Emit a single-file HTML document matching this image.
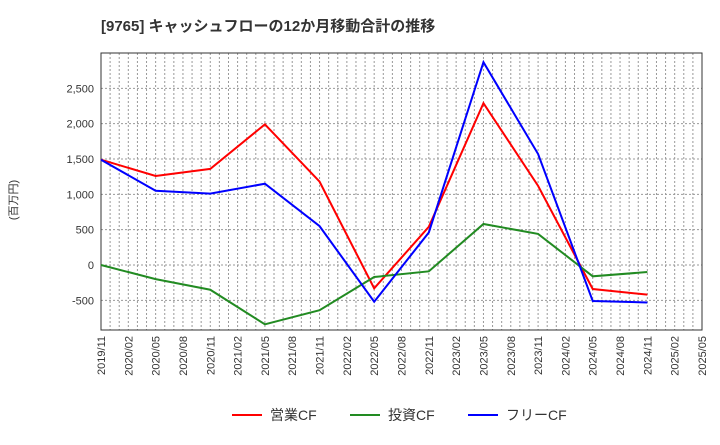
<!DOCTYPE html>
<html><head><meta charset="utf-8"><style>
body{margin:0;background:#fff;}
svg{font-family:"Liberation Sans","Noto Sans CJK JP",sans-serif;}
</style></head><body>
<svg id="c" width="720" height="440" xmlns="http://www.w3.org/2000/svg">
<text x="101" y="31" font-size="15" font-weight="bold" fill="#333">[9765]  キャッシュフローの12か月移動合計の推移</text>
<text transform="translate(17,200) rotate(-90)" font-size="11" fill="#333" text-anchor="middle">(百万円)</text>
<g id="grid"></g><g id="axes"></g><g id="series"></g>
<g>
<line x1="232" y1="415" x2="262" y2="415" stroke="#f00" stroke-width="2"/>
<text x="270" y="420" font-size="14" fill="#333">営業CF</text>
<line x1="350" y1="415" x2="380" y2="415" stroke="#228B22" stroke-width="2"/>
<text x="388" y="420" font-size="14" fill="#333">投資CF</text>
<line x1="468" y1="415" x2="498" y2="415" stroke="#00f" stroke-width="2"/>
<text x="506" y="420" font-size="14" fill="#333">フリーCF</text>
</g>
</svg>
<script>
const categories=["2019/11","2020/05","2020/11","2021/05","2021/11","2022/05","2022/11","2023/05","2023/11","2024/05","2024/11"];
const operatingCF=[1490,1260,1360,1990,1180,-330,540,2290,1120,-340,-420];
const investingCF=[0,-200,-350,-840,-640,-170,-90,580,440,-160,-100];
const freeCF=[1490,1050,1010,1150,550,-520,460,2870,1570,-510,-530];
const yTicks=[-500,0,500,1000,1500,2000,2500];
const xTickLabels=["2019/11","2020/02","2020/05","2020/08","2020/11","2021/02","2021/05","2021/08","2021/11","2022/02","2022/05","2022/08","2022/11","2023/02","2023/05","2023/08","2023/11","2024/02","2024/05","2024/08","2024/11","2025/02","2025/05"];
const NS="http://www.w3.org/2000/svg";
const L=101,R=702,T=53,B=330,yMin=-920,yMax=3000;
const mIdx=s=>{const[a,b]=s.split("/").map(Number);return (a-2019)*12+(b-11);};
const X=s=>L+mIdx(s)*(R-L)/66;
const Y=v=>B-(v-yMin)*(B-T)/(yMax-yMin);
function mk(t,a,p){const e=document.createElementNS(NS,t);for(const k in a)e.setAttribute(k,a[k]);p.appendChild(e);return e;}
const grid=document.getElementById("grid"),axes=document.getElementById("axes"),ser=document.getElementById("series");
for(let m=1;m<66;m++){const x=L+m*(R-L)/66;const l=mk("line",{x1:x,x2:x,y1:T,y2:B,stroke:"#999","stroke-dasharray":"2,2","stroke-width":1},grid);

}
yTicks.forEach(v=>{const y=Y(v);const l=mk("line",{x1:L,x2:R,y1:y,y2:y,stroke:"#999","stroke-dasharray":"2,2","stroke-width":1},grid);


const t=mk("text",{x:L-7,y:y+4,"font-size":11,fill:"#333","text-anchor":"end"},axes);t.textContent=v.toLocaleString("en-US");

});
const fr=mk("rect",{x:L,y:T,width:R-L,height:B-T,fill:"none",stroke:"#333","stroke-width":1},axes);


xTickLabels.forEach(s=>{const x=X(s);const t=mk("text",{transform:`translate(${x+4},${B+6}) rotate(-90)`,"font-size":11,fill:"#333","text-anchor":"end"},axes);t.textContent=s;

});
[[operatingCF,"#f00","operating-cf-line"],[investingCF,"#228B22","investing-cf-line"],[freeCF,"#00f","free-cf-line"]].forEach(([d,c,n])=>{
const p=mk("polyline",{points:d.map((v,i)=>X(categories[i])+","+Y(v)).join(" "),fill:"none",stroke:c,"stroke-width":2},ser);

});
</script>
</body></html>
